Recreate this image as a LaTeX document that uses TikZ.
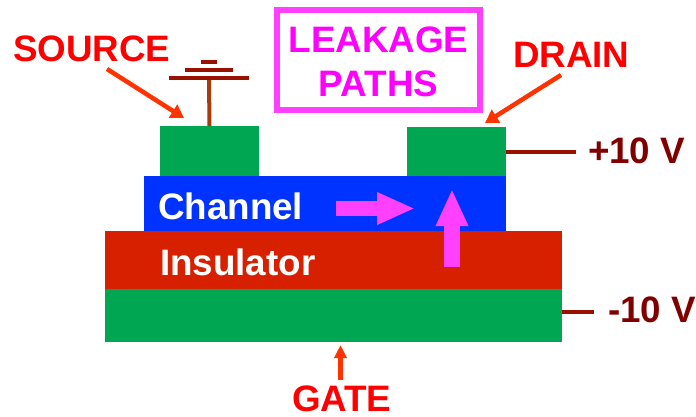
\documentclass[tikz,border=0pt]{standalone}
\usepackage{fontspec}
\setmainfont{Liberation Sans}
\usetikzlibrary{arrows.meta}
\definecolor{padgreen}{HTML}{00A651}
\definecolor{chblue}{HTML}{0033FF}
\definecolor{insred}{HTML}{D62000}
\definecolor{boxpink}{HTML}{FF40FF}
\definecolor{textpink}{HTML}{FF00FF}
\definecolor{lblred}{HTML}{FF0000}
\definecolor{arrred}{HTML}{FF3300}
\definecolor{wirered}{HTML}{991100}
\definecolor{stembrown}{HTML}{A63C0A}
\definecolor{voltred}{HTML}{800000}
\tikzset{
 layer/.style={inner sep=0pt,outer sep=0pt,anchor=north west},
 lbl/.style={inner sep=0pt,outer sep=0pt,anchor=base west,font=\bfseries\fontsize{36.8}{37}\selectfont},
 redlbl/.style={lbl,text=lblred},
 whitelbl/.style={lbl,text=white},
 voltlbl/.style={lbl,text=voltred},
 pinklbl/.style={lbl,text=textpink,anchor=base},
 callout/.style={draw=arrred,line width=4.5pt,-{Triangle[length=13pt,width=15pt]}},
 wire/.style={draw=wirered,line width=4pt},
 plate/.style={fill=wirered},
}
\begin{document}
\begin{tikzpicture}[x=1pt,y=-1pt]
\useasboundingbox (0,0) rectangle (696,416);
% layers
\node[layer,fill=padgreen,minimum width=99pt,minimum height=50pt] (src) at (160,126) {};
\node[layer,fill=padgreen,minimum width=99pt,minimum height=49pt] (drn) at (407,127) {};
\node[layer,fill=chblue,minimum width=362pt,minimum height=55pt] (chan) at (144,176) {};
\node[layer,fill=insred,minimum width=457pt,minimum height=58pt] (ins) at (105,231) {};
\node[layer,fill=padgreen,minimum width=457pt,minimum height=53pt] (gate) at (105,289) {};
% battery
\node[layer,plate,minimum width=16pt,minimum height=4pt] (p3) at (201,60) {};
\node[layer,plate,minimum width=48pt,minimum height=4pt] (p2) at (185,68) {};
\node[layer,plate,minimum width=80pt,minimum height=4pt] (p1) at (169,76) {};
\draw[draw=stembrown,line width=4pt] (p1.south) -- (src.north);
% leakage box
\node[layer,draw=boxpink,line width=6.5pt,minimum width=203pt,minimum height=100pt] (box) at (277,10) {};
\node[pinklbl] (leak) at (378.5,52) {LEAKAGE};
\node[pinklbl] (paths) at (378.5,96) {PATHS};
% labels
\node[redlbl] (lsrc) at (13,61) {SOURCE};
\node[redlbl] (ldrn) at (513,67) {DRAIN};
\node[redlbl] (lgate) at (292,411) {GATE};
\node[voltlbl] (vp) at (588,163) {+10 V};
\node[voltlbl] (vm) at (608,322) {-10 V};
\node[whitelbl] (lch) at (158,219) {Channel};
\node[whitelbl] (lins) at (160,275) {Insulator};
% callouts
\coordinate (a1) at (107,69); \coordinate (a2) at (184,118);
\draw[callout] (a1) -- (a2);
\coordinate (b1) at (561,75); \coordinate (b2) at (485,123);
\draw[callout] (b1) -- (b2);
\coordinate (g1) at (340.5,380);
\coordinate (g2) at (340.5,345);
\draw[draw=arrred,line width=4.5pt,-{Triangle[length=13pt,width=12pt]}] (g1) -- (g2);
% voltage wires
\coordinate (w1) at (576,152);
\draw[wire] (drn.east |- w1) -- (w1);
\coordinate (w2) at (594,312);
\draw[wire] (gate.east |- w2) -- (w2);
% leakage arrows
\coordinate (h1) at (336,208.5); \coordinate (h2) at (415,208.5);
\draw[draw=boxpink,line width=15pt,-{Triangle[length=38pt,width=30pt,fill=boxpink]}] (h1) -- (h2);
\coordinate (v1) at (452,267); \coordinate (v2) at (452,189);
\draw[draw=boxpink,line width=16pt,-{Triangle[length=37pt,width=30pt,fill=boxpink]}] (v1) -- (v2);
\end{tikzpicture}
\end{document}
